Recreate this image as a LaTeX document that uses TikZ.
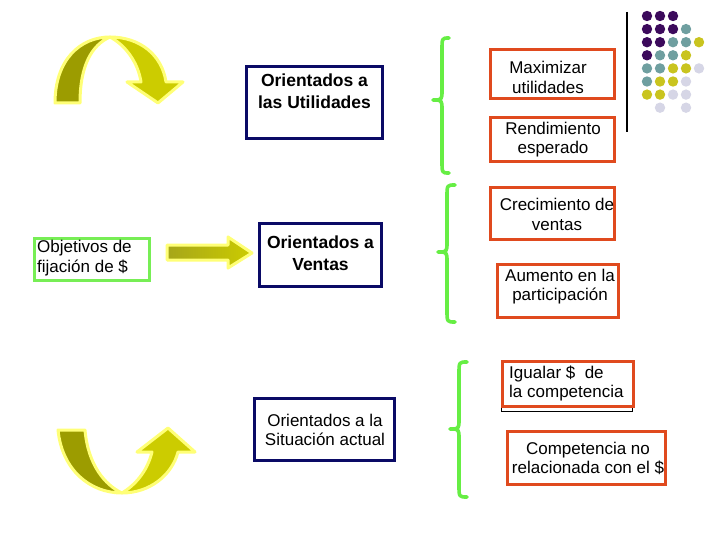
\documentclass[tikz,border=0pt]{standalone}
\usepackage{fontspec}
\setmainfont{Liberation Sans}
\definecolor{navyc}{HTML}{0A0A66}
\definecolor{orangec}{HTML}{E04A1E}
\definecolor{greenc}{HTML}{77EE55}
\definecolor{bracec}{HTML}{66EE44}
\definecolor{darkol}{HTML}{9C9C00}
\definecolor{yelc}{HTML}{CCCC00}
\definecolor{glowc}{HTML}{FFFF77}
\definecolor{dpur}{HTML}{3C0A5C}
\definecolor{dteal}{HTML}{6F9FA0}
\definecolor{dyel}{HTML}{C9C41F}
\definecolor{dlav}{HTML}{D6D6E6}
\newcommand\greenbrace[6]{%
  \draw[brace] (#1,#4) .. controls (#2,#4) .. (#2,#4+12) -- (#2,#5-10)
    .. controls (#2,#5) .. (#3,#5) .. controls (#2,#5) .. (#2,#5+10)
    -- (#2,#6-12) .. controls (#2,#6) .. (#1,#6);}
\begin{document}
\begin{tikzpicture}[x=1pt,y=-1pt,
  navybox/.style={draw=navyc, line width=3pt, fill=white, inner sep=0pt},
  redbox/.style={draw=orangec, line width=3pt, fill=white, inner sep=0pt},
  greenbox/.style={draw=greenc, line width=3pt, fill=white, inner sep=0pt},
  reg/.style={font=\fontsize{17}{19.5}\selectfont, align=center, inner sep=0pt},
  bld/.style={font=\fontsize{17.5}{22}\bfseries\selectfont, align=center, inner sep=0pt},
  brace/.style={draw=bracec, line width=3.6pt, line cap=round, line join=round},
  glow/.style={draw=glowc, line width=3pt, line join=round}]
\useasboundingbox[fill=white] (0,0) rectangle (720,540);

% curved arrows
\filldraw[glow, fill=darkol] (55,103) .. controls (55,60) and (80,37) .. (110,37)
   .. controls (92,45) and (80,65) .. (80,103) -- cycle;
\filldraw[glow, fill=yelc] (110,37) .. controls (140,37) and (162,55) .. (166,82)
   -- (183,82) -- (158,103) -- (127,82) -- (141,82)
   .. controls (138,62) and (125,45) .. (110,37) -- cycle;
\filldraw[glow, fill=darkol] (58,430) .. controls (62,470) and (90,493) .. (122,493)
   .. controls (105,485) and (88,465) .. (85,430) -- cycle;
\filldraw[glow, fill=yelc] (122,493) .. controls (150,493) and (172,475) .. (178,452)
   -- (195,452) -- (168,428) -- (137,452) -- (152,452)
   .. controls (147,472) and (135,485) .. (122,493) -- cycle;
% straight arrow
\draw[glow, left color=darkol!90, right color=yelc] (167,245) -- (228,245) -- (228,237) -- (252,253)
   -- (228,268) -- (228,260) -- (167,260) -- cycle;

% boxes
\node[navybox, minimum width=136pt, minimum height=72pt] (util) at (314.5,102.5) {};
\node[bld] (utilt) at (314.5,91) {Orientados a\\las Utilidades};
\node[greenbox, minimum width=115pt, minimum height=42pt] (obj) at (92,259.5) {};
\node[reg, align=left, anchor=west] (objt) at (37,258) {Objetivos de\\fijación de \$};
\node[navybox, minimum width=122pt, minimum height=63pt] (vent) at (320.5,255) {};
\node[bld] (ventt) at (320.5,253) {Orientados a\\Ventas};
\node[navybox, minimum width=140pt, minimum height=62pt] (sit) at (324.5,429.5) {};
\node[reg] (sitt) at (325,430) {Orientados a la\\Situación actual};

\node[redbox, minimum width=124pt, minimum height=49pt] (maxi) at (552.5,74) {};
\node[reg] (maxit) at (548,77.5) {Maximizar\\utilidades};
\node[redbox, minimum width=124pt, minimum height=44pt] (rend) at (552.5,139.5) {};
\node[reg] (rendt) at (553,139.5) {Rendimiento\\esperado};
\node[redbox, minimum width=124pt, minimum height=52pt] (crec) at (552.5,213.5) {};
\node[reg] (crect) at (557,214.5) {Crecimiento de\\ventas};
\node[redbox, minimum width=121pt, minimum height=53pt] (aum) at (558,291) {};
\node[reg] (aumt) at (560,286.5) {Aumento en la\\participación};
\draw[black, line width=1pt] (501,362) rectangle (632,411);
\node[redbox, minimum width=131pt, minimum height=45pt] (igu) at (568,384) {};
\node[reg, align=left, anchor=west] (igut) at (509,383.5) {Igualar \$\ \ de\\la competencia};
\node[redbox, minimum width=158pt, minimum height=53pt] (comp) at (586.5,458) {};
\node[reg] (compt) at (588,458.5) {Competencia no\\relacionada con el \$};

% braces
\greenbrace{449}{442}{433}{38}{100}{173}
\greenbrace{455}{447}{438}{185}{252}{322}
\greenbrace{467}{459}{450}{362}{429}{497}

% decoration
\draw[line width=2pt] (627,12) -- (627,132);
\foreach \c/\r/\col in {0/0/dpur,1/0/dpur,2/0/dpur,
  0/1/dpur,1/1/dpur,2/1/dpur,3/1/dteal,
  0/2/dpur,1/2/dpur,2/2/dteal,3/2/dteal,4/2/dyel,
  0/3/dpur,1/3/dteal,2/3/dteal,3/3/dyel,
  0/4/dteal,1/4/dteal,2/4/dyel,3/4/dyel,4/4/dlav,
  0/5/dteal,1/5/dyel,2/5/dyel,3/5/dlav,
  0/6/dyel,1/6/dyel,2/6/dlav,3/6/dlav,
  1/7/dlav,3/7/dlav}
  \fill[\col] (647+13*\c,16+13.1*\r) circle (5.2);
\end{tikzpicture}
\end{document}
